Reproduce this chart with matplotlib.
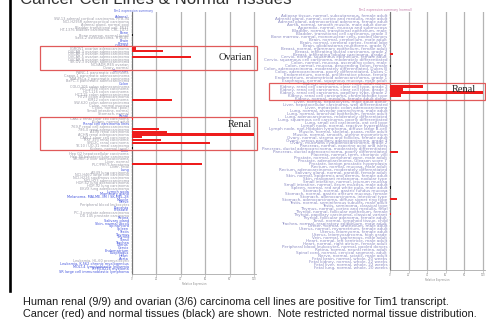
import matplotlib
matplotlib.use("Agg")
import matplotlib.pyplot as plt
import matplotlib.transforms as mtransforms
from matplotlib.patches import Rectangle
from matplotlib.lines import Line2D

# ---------------- data ----------------
left_labels = [
    "Adrenal", "SW-13 adrenal cortical carcinoma, HTB-94", "NCI-H295R adrenocortical carcinoma",
    "Adrenal gland, normal pool", "Bladder transitional cell, 5637", "HT-1376 bladder carcinoma, CRL-1472",
    "Bone", "Bone marrow, normal (pool)", "Saos-2 osteosarcoma, HTB-85", "Brain", "Breast",
    "Ovarian", "IGROV1 ovarian adenocarcinoma", "OVCAR-3 ovarian adenocarcinoma",
    "OVCAR-4 ovarian adenocarcinoma", "OVCAR-5 ovarian adenocarcinoma", "OVCAR-8 ovarian adenocarcinoma",
    "SK-OV-3 ovarian adenocarcinoma", "NCI/ADR-RES ovarian", "Ovary, normal",
    "Pancreas", "PANC-1 pancreatic carcinoma", "Capan-1 pancreatic adenocarcinoma",
    "MIA PaCa-2 pancreatic carcinoma", "BxPC-3 pancreatic adenocarcinoma",
    "Colon", "COLO 205 colon adenocarcinoma", "HCC-2998 colon carcinoma", "HCT-116 colon carcinoma",
    "HCT-15 colon adenocarcinoma", "HT29 colon adenocarcinoma", "KM12 colon carcinoma",
    "SW-620 colon adenocarcinoma", "Colon, normal mucosa", "Colon, normal (pool)",
    "Small intestine, normal", "Stomach, normal",
    "Renal", "CAKI-2 renal clear cell carcinoma", "Kidney, normal adult", "Renal cell carcinoma lines",
    "769-P renal cell adenocarcinoma", "786-0 renal adenocarcinoma", "A498 renal carcinoma",
    "ACHN renal adenocarcinoma", "CAKI-1 clear cell carcinoma", "RXF 393 renal carcinoma",
    "SN12C renal carcinoma", "TK-10 / UO-31 renal carcinoma", "Kidney, normal (pool)",
    "Liver", "Hep G2 hepatocellular carcinoma", "Hep 3B hepatocellular carcinoma",
    "SK-HEP-1 liver adenocarcinoma", "Liver, normal", "PLC/PRF/5 hepatoma", "Liver, fetal",
    "Lung", "A549 lung carcinoma", "NCI-H460 large cell carcinoma", "NCI-H226 squamous carcinoma",
    "NCI-H23 adenocarcinoma", "HOP-62 lung adenocarcinoma", "HOP-92 lung carcinoma",
    "EKVX lung adenocarcinoma",
    "Lymph node", "Mammary gland", "Melanoma, MALME-3M / SK-MEL-28", "Muscle", "Nerve",
    "Peripheral blood leukocytes", "Placenta", "Prostate", "PC-3 prostate adenocarcinoma",
    "DU 145 prostate carcinoma", "Retina", "Salivary gland", "Skin, normal (pool)", "Spinal cord",
    "Spleen", "Testis", "Thymus", "Thyroid", "Tonsil", "Trachea", "Uterus", "Cervix",
    "Endometrium", "Esophagus", "Heart", "Aorta", "Leukemia, HL-60 promyelocytic",
    "Leukemia, K-562 chronic myelogenous", "MOLT-4 lymphoblastic leukemia", "RPMI-8226 myeloma",
    "SR large cell immunoblastic lymphoma",
]
left_groups = [
    "Adrenal", "Bone", "Brain", "Breast", "Ovarian", "Pancreas", "Colon", "Renal",
    "Renal cell carcinoma lines", "Liver", "Lung", "Lymph node", "Mammary gland",
    "Melanoma, MALME-3M / SK-MEL-28", "Muscle", "Nerve", "Placenta", "Prostate", "Retina",
    "Salivary gland", "Skin, normal (pool)", "Spinal cord", "Spleen", "Testis", "Thymus",
    "Thyroid", "Tonsil", "Trachea", "Uterus", "Cervix", "Endometrium", "Esophagus", "Heart",
    "Aorta", "Leukemia, K-562 chronic myelogenous", "MOLT-4 lymphoblastic leukemia",
    "RPMI-8226 myeloma", "SR large cell immunoblastic lymphoma",
]
left_values = [
    0, 0, 0, 0, 0, 0, 0, 1.0, 0, 0,          # 0-9
    0, 0, 3.6, 25.4, 0, 48.2, 0, 0, 0, 0,    # 10-19
    0, 0, 0, 0, 0, 0, 0, 0, 0, 0,            # 20-29
    0, 33.2, 0, 0, 0, 0, 0, 0, 1.0, 0,       # 30-39
    0, 0, 22.4, 28.8, 100, 8.4, 23.6, 64.4, 0, 1.2,  # 40-49
    0, 0, 0, 0, 0, 57.8, 0, 0, 0, 0,         # 50-59
    0, 0, 0, 0, 0, 0, 0, 0, 0, 0,            # 60-69
    0, 0, 0, 0, 0, 0, 0, 0, 0, 0,            # 70-79
    0, 0, 0, 0, 0, 0, 0, 0, 0, 0,            # 80-89
    0, 0, 0, 0, 0, 0,                        # 90-95
]
left_normal = ["Bone marrow, normal (pool)", "Kidney, normal (pool)"]

right_labels = [
    "Adipose tissue, normal, subcutaneous, female adult",
    "Adrenal gland, normal, cortex and medulla, male adult",
    "Adrenal gland, adrenocortical adenoma, female adult",
    "Aorta, normal, smooth muscle, male adult donor",
    "Appendix, normal, mucosa and submucosa",
    "Bladder, normal, transitional epithelium, male",
    "Bladder, transitional cell carcinoma, grade 3",
    "Bone marrow, normal, mononuclear cells, pooled donors",
    "Brain, normal, cerebellum, male adult",
    "Brain, normal, cerebral cortex, frontal lobe",
    "Brain, glioblastoma multiforme, grade IV",
    "Breast, normal, mammary epithelium, female adult",
    "Breast, infiltrating ductal carcinoma, grade 2",
    "Breast, infiltrating lobular carcinoma, grade 2",
    "Cervix, normal, squamous epithelium, female adult",
    "Cervix, squamous cell carcinoma, moderately differentiated",
    "Colon, normal, mucosa, ascending colon, male",
    "Colon, normal, mucosa, descending colon, female",
    "Colon, adenocarcinoma, moderately differentiated, Dukes B",
    "Colon, adenocarcinoma, poorly differentiated, Dukes C",
    "Endometrium, normal, proliferative phase, female",
    "Endometrium, endometrioid adenocarcinoma, grade 1",
    "Esophagus, normal, squamous mucosa, male adult",
    "Kidney, normal, cortex, male adult donor",
    "Kidney, renal cell carcinoma, clear cell type, grade 2",
    "Kidney, renal cell carcinoma, clear cell type, grade 3",
    "Kidney, renal cell carcinoma, papillary type, grade 2",
    "Kidney, renal cell carcinoma, chromophobe type",
    "Kidney, normal, medulla, female adult donor",
    "Liver, normal, hepatocytes, male adult donor",
    "Liver, hepatocellular carcinoma, well differentiated",
    "Liver, metastatic colon adenocarcinoma",
    "Lung, normal, alveolar parenchyma, male adult",
    "Lung, normal, bronchial epithelium, female adult",
    "Lung, adenocarcinoma, moderately differentiated",
    "Lung, squamous cell carcinoma, poorly differentiated",
    "Lung, small cell carcinoma, oat cell type",
    "Lymph node, normal, reactive hyperplasia",
    "Lymph node, non-Hodgkin lymphoma, diffuse large B-cell",
    "Muscle, normal, skeletal, psoas, male adult",
    "Muscle, normal, smooth, uterine myometrium",
    "Ovary, normal, stroma and follicles, female adult",
    "Ovary, serous papillary adenocarcinoma, grade 3",
    "Ovary, mucinous cystadenocarcinoma, grade 2",
    "Pancreas, normal, exocrine acini and islets",
    "Pancreas, ductal adenocarcinoma, moderately differentiated",
    "Pancreas, ductal adenocarcinoma, poorly differentiated",
    "Placenta, normal, term, chorionic villi",
    "Prostate, normal, peripheral zone, male adult",
    "Prostate, adenocarcinoma, Gleason score 7",
    "Prostate, benign prostatic hyperplasia",
    "Rectum, normal, mucosa, male adult",
    "Rectum, adenocarcinoma, moderately differentiated",
    "Salivary gland, normal, parotid, female adult",
    "Skin, normal, epidermis and dermis, female adult",
    "Skin, malignant melanoma, nodular type",
    "Small intestine, normal, jejunum mucosa",
    "Small intestine, normal, ileum mucosa, male adult",
    "Spleen, normal, red and white pulp, male adult",
    "Stomach, normal, gastric fundus mucosa",
    "Stomach, normal, gastric antrum mucosa, female",
    "Stomach, adenocarcinoma, intestinal type",
    "Stomach, adenocarcinoma, diffuse signet ring type",
    "Testis, normal, seminiferous tubules, male adult",
    "Testis, seminoma, classical type",
    "Thymus, normal, cortex and medulla, fetal",
    "Thyroid, normal, follicular epithelium, female",
    "Thyroid, papillary carcinoma, classical variant",
    "Thyroid, follicular adenoma, female adult",
    "Tonsil, normal, lymphoid tissue, child",
    "Trachea, normal, respiratory epithelium, male adult",
    "Ureter, normal, urothelium, male adult",
    "Uterus, normal, myometrium, female adult",
    "Uterus, leiomyoma, female adult",
    "Uterus, leiomyosarcoma, high grade",
    "Vein, normal, saphenous, male adult",
    "Heart, normal, left ventricle, male adult",
    "Heart, normal, right atrium, female adult",
    "Peripheral blood leukocytes, normal, pooled donors",
    "Retina, normal, neural retina, adult",
    "Spinal cord, normal, cervical segment, adult",
    "Nerve, normal, sciatic, male adult",
    "Fetal brain, normal, whole, 20 weeks",
    "Fetal kidney, normal, whole, 22 weeks",
    "Fetal liver, normal, whole, 22 weeks",
    "Fetal lung, normal, whole, 20 weeks",
]
right_values = [
    0, 0, 0, 0, 0, 0, 0, 0, 0, 0,            # 0-9
    0, 0, 0, 3.2, 0, 0, 0, 1.0, 0, 0,        # 10-19
    0, 0, 0, 0, 36.0, 13.6, 100, 12.0, 0, 0, # 20-29
    0, 0, 0, 0, 0, 0, 0, 0, 0, 0,            # 30-39
    0, 0, 0, 0, 0, 0, 8.6, 0, 0, 0,          # 40-49
    0, 0, 0, 0, 0, 0, 0, 0, 1.0, 0,          # 50-59
    0, 0, 7.0, 0, 0, 0, 0, 1.0, 0, 0,        # 60-69
    0, 0, 0, 0, 0, 0, 0, 0, 0, 0,            # 70-79
    0, 0, 0, 0, 0, 0,                        # 80-85
]
right_normal = ["Colon, normal, mucosa, descending colon, female",
                "Spleen, normal, red and white pulp, male adult"]

x_ticks = [0, 20, 40, 60, 80, 100]

# ---------------- figure ----------------
W, H = 486, 321
fig = plt.figure(figsize=(W / 100, H / 100), dpi=100)
fig.patch.set_facecolor("white")


def px_axes(x0, y0, x1, y1):
    return fig.add_axes([x0 / W, 1 - y1 / H, (x1 - x0) / W, (y1 - y0) / H])


RED = "#ee1c1c"
BLACK = "#111111"


def panel(ax, labels, values, normal, groups, label_color, group_color, pad_t, pad_b, lab_fs):
    n = len(labels)
    rows = list(range(n))
    colors = [BLACK if lab in normal else RED for lab in labels]
    ax.barh(rows, values, height=0.8, color=colors, linewidth=0, zorder=3)
    ax.set_ylim(n - 0.5 + pad_b, -0.5 - pad_t)
    ax.set_xlim(0, 102)
    ax.set_xticks(x_ticks)
    ax.set_xticklabels([str(t) for t in x_ticks], fontsize=1.8, color="#888888")
    ax.set_yticks(rows)
    ax.set_yticklabels(labels, fontsize=lab_fs)
    for t, lab in zip(ax.get_yticklabels(), labels):
        t.set_color(group_color if lab in groups else label_color)
    ax.grid(axis="x", color="#b4b4b4", lw=0.9)
    ax.set_axisbelow(True)
    for s in ("top", "right"):
        ax.spines[s].set_visible(False)
    ax.spines["left"].set_color("#777777")
    ax.spines["left"].set_linewidth(0.8)
    ax.spines["bottom"].set_color("#aaaaaa")
    ax.spines["bottom"].set_linewidth(0.6)
    ax.tick_params(axis="y", length=1, width=0.3, pad=1, color="#aaaaaa")
    ax.tick_params(axis="x", length=2, width=0.4, pad=0.5, color="#aaaaaa")
    ax.set_xlabel("Relative Expression", fontsize=1.8, color="#888888", labelpad=0.5)


axL = px_axes(131.7, 12, 256.4, 274)
panel(axL, left_labels, left_values, left_normal, left_groups,
      "#9a9aa6", "#4455dd", 1.1, 0.37, 2.55)

axR = px_axes(390, 12, 484.9, 270)
panel(axR, right_labels, right_values, right_normal, [],
      "#8d8dc4", "#8d8dc4", 0.67, 0.34, 3.0)

# highlight boxes (x in axes fraction, y in row units)
box_col = "#e05a5a"
trL = mtransforms.blended_transform_factory(axL.transAxes, axL.transData)
trR = mtransforms.blended_transform_factory(axR.transAxes, axR.transData)
axL.add_patch(Rectangle((-0.735, 11.04), 1.74, 19.96 - 11.04, transform=trL,
                        fill=False, ec=box_col, lw=0.9, clip_on=False, zorder=5))
axL.add_patch(Rectangle((-0.735, 37.43), 1.74, 49.7 - 37.43, transform=trL,
                        fill=False, ec=box_col, lw=0.9, clip_on=False, zorder=5))
axR.add_patch(Rectangle((-1.275, 22.78), 2.28, 28.5 - 22.78, transform=trR,
                        fill=False, ec=box_col, lw=0.9, clip_on=False, zorder=5))

serif = ["Liberation Serif", "DejaVu Serif"]
axL.text(0.965, 15.5, "Ovarian", transform=trL, ha="right", va="center",
         fontsize=7.5, family=serif, color="#222222", zorder=6)
axL.text(0.965, 40.4, "Renal", transform=trL, ha="right", va="center",
         fontsize=7.5, family=serif, color="#222222", zorder=6)
axR.text(0.905, 24.8, "Renal", transform=trR, ha="right", va="center",
         fontsize=7.5, family=serif, color="#222222", zorder=6)

# small column titles
fig.text(133 / W, 1 - 11 / H, "Tim1 expression summary", fontsize=2.2,
         color="#5566dd", ha="center", va="center")
fig.text(385 / W, 1 - 10.5 / H, "Tim1 expression summary (normal)", fontsize=2.2,
         color="#c27aa8", ha="center", va="center")

sans = ["Liberation Sans", "DejaVu Sans"]
# main title (cut off at the top edge, as in the slide)
fig.text(20 / W, 1 - 4.5 / H, "Cancer Cell Lines & Normal Tissues", fontsize=12.2,
         family=sans, color="#333333", ha="left", va="baseline")

# caption
fig.text(23 / W, 1 - 302 / H,
         "Human renal (9/9) and ovarian (3/6) carcinoma cell lines are positive for Tim1 transcript.",
         fontsize=7.8, family=sans, color="#1a1a1a", ha="left", va="center")
fig.text(23 / W, 1 - 314 / H,
         "Cancer (red) and normal tissues (black) are shown.  Note restricted normal tissue distribution.",
         fontsize=7.8, family=sans, color="#1a1a1a", ha="left", va="center")

# black frame line on the left
fig.add_artist(Line2D([9.5 / W, 9.5 / W], [1, 1 - 291 / H], color="black", lw=1.9))

fig.savefig("out.png", dpi=100, facecolor="white")
